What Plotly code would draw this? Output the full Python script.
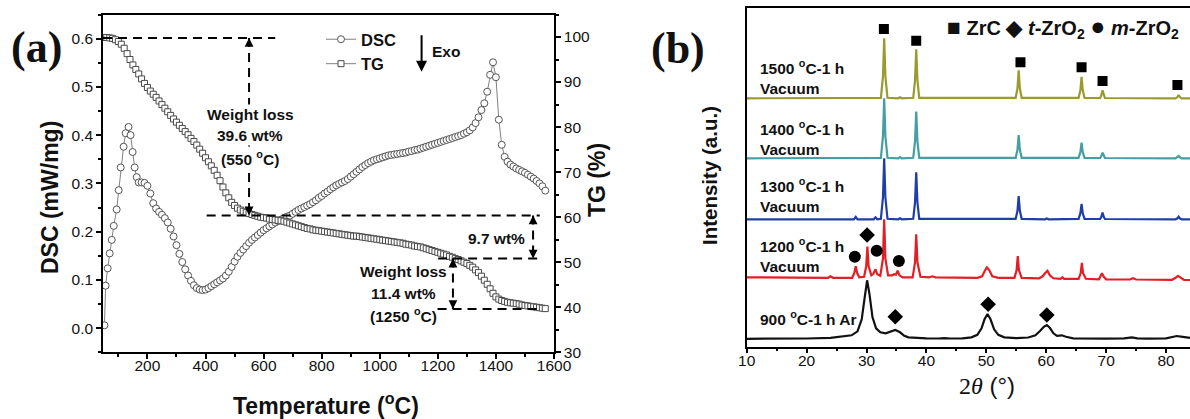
import plotly.graph_objects as go

# ---------------- Panel (a): DSC / TG ----------------
DSC_T = [52, 56, 63, 70, 77, 84, 94, 101, 108, 118, 125, 135, 142, 149, 156, 163, 170] + list(range(180, 1571, 10))
DSC_V = [0.006, 0.088, 0.124, 0.155, 0.183, 0.212, 0.246, 0.286, 0.333, 0.376, 0.404, 0.417, 0.40, 0.365, 0.333, 0.313, 0.302,
         # 180-270
         0.302, 0.301, 0.295, 0.279, 0.259, 0.248, 0.241, 0.235, 0.228, 0.219,
         # 280-370
         0.206, 0.19, 0.172, 0.154, 0.137, 0.122, 0.109, 0.098, 0.089, 0.083,
         # 380-470
         0.08, 0.079, 0.08, 0.083, 0.087, 0.091, 0.095, 0.099, 0.103, 0.109,
         # 480-570
         0.117, 0.127, 0.138, 0.148, 0.156, 0.163, 0.17, 0.177, 0.183, 0.188,
         # 580-670
         0.193, 0.198, 0.203, 0.207, 0.211, 0.215, 0.219, 0.222, 0.225, 0.228,
         # 680-770
         0.231, 0.233, 0.237, 0.241, 0.245, 0.248, 0.251, 0.254, 0.257, 0.261,
         # 780-870
         0.265, 0.27, 0.274, 0.279, 0.283, 0.288, 0.292, 0.296, 0.299, 0.302,
         # 880-970
         0.305, 0.309, 0.314, 0.319, 0.324, 0.329, 0.334, 0.338, 0.342, 0.345,
         # 980-1070
         0.348, 0.35, 0.352, 0.354, 0.356, 0.358, 0.359, 0.36, 0.361, 0.362,
         # 1080-1170
         0.363, 0.364, 0.366, 0.367, 0.369, 0.37, 0.372, 0.374, 0.376, 0.378,
         # 1180-1270
         0.38, 0.382, 0.384, 0.386, 0.388, 0.39, 0.392, 0.394, 0.396, 0.398,
         # 1280-1370
         0.40, 0.403, 0.406, 0.41, 0.416, 0.425, 0.437, 0.452, 0.466, 0.49,
         # 1380-1470
         0.525, 0.551, 0.52, 0.432, 0.38, 0.355, 0.345, 0.339, 0.335, 0.331,
         # 1480-1570
         0.328, 0.325, 0.322, 0.318, 0.314, 0.31, 0.305, 0.30, 0.294, 0.285]

TG_T = list(range(50, 1571, 10))
TG_V = [99.9, 99.9, 99.8, 99.7, 99.4, 99.0, 98.4, 97.5, 96.3, 95.0,
        93.8, 92.8, 91.8, 90.7, 89.7, 88.8, 88.0, 87.3, 86.6, 85.8,
        85.0, 84.2, 83.4, 82.6, 81.8, 81.1, 80.4, 79.7, 79.0, 78.3,
        77.5, 76.8, 76.0, 75.1, 74.2, 73.2, 72.3, 71.4, 70.4, 69.3,
        68.1, 66.7, 65.4, 64.3, 63.3, 62.6, 62.0, 61.6, 61.3, 61.0,
        60.8, 60.6, 60.4, 60.2, 60.0, 59.9, 59.8, 59.6, 59.5, 59.4,
        59.3, 59.2, 59.1, 58.9, 58.7, 58.5, 58.3, 58.1, 57.9, 57.7,
        57.5, 57.4, 57.2, 57.1, 57.0, 56.9, 56.8, 56.7, 56.6, 56.5,
        56.4, 56.3, 56.2, 56.1, 56.0, 55.9, 55.8, 55.8, 55.7, 55.6,
        55.5, 55.4, 55.3, 55.2, 55.1, 55.0, 54.9, 54.8, 54.7, 54.6,
        54.5, 54.4, 54.3, 54.2, 54.0, 53.9, 53.8, 53.6, 53.5, 53.4,
        53.2, 53.0, 52.8, 52.6, 52.4, 52.2, 52.0, 51.8, 51.6, 51.3,
        51.1, 50.8, 50.6, 50.3, 50.0, 49.7, 49.3, 48.9, 48.3, 47.7,
        46.9, 46.0, 45.1, 44.1, 43.1, 42.3, 41.8, 41.5, 41.3, 41.1,
        41.0, 40.9, 40.8, 40.7, 40.5, 40.4, 40.3, 40.2, 40.1, 40.0,
        39.9, 39.8, 39.7]

# weight-loss marker levels (TG %) and temperatures
WL_TOP, WL_550, WL_1250_TOP, WL_1250 = 99.8, 60.4, 50.8, 39.6
T_550, T_97, T_1250 = 550, 1528, 1252

# ---------------- Panel (b): XRD ----------------
XRD_LABELS = ["1500 <sup>o</sup>C-1 h<br>Vacuum", "1400 <sup>o</sup>C-1 h<br>Vacuum",
              "1300 <sup>o</sup>C-1 h<br>Vacuum", "1200 <sup>o</sup>C-1 h<br>Vacuum",
              "900 <sup>o</sup>C-1 h Ar"]
XRD_COLORS = ["#9a9a2e", "#449ea3", "#1e3ea8", "#e31e24", "#111111"]
XRD_OFFSETS = [248.4, 188.4, 127.4, 68.4, 7.4]

X_1500 = [10, 20, 32.4, 32.75, 32.95, 33.15, 33.5, 35.3, 35.6, 35.9, 37.8, 38.1, 38.3, 38.5, 38.8,
          54.9, 55.2, 55.4, 55.6, 55.9, 65.4, 65.7, 65.9, 66.1, 66.4, 69.0, 69.2, 69.4, 69.6, 69.8,
          81.6, 81.9, 82.1, 82.3, 82.6, 84]
Y_1500 = [0, 0, 0.5, 22, 60, 22, 0.5, 0, 1, 0, 0.5, 18, 49, 18, 0.5,
          0.5, 10, 28, 10, 0.5, 0.5, 8, 21.5, 8, 0.5, 0.3, 3, 8, 3, 0.3,
          0, 1.2, 3.3, 1.2, 0, 0]
X_1400 = X_1500
Y_1400 = [0, 0, 0.5, 22, 60, 22, 0.5, 0, 1.3, 0, 0.5, 17, 46.7, 17, 0.5,
          0.5, 8.5, 23.3, 8.5, 0.5, 0.5, 6, 15.7, 6, 0.5, 0.3, 2.2, 5.7, 2.2, 0.3,
          0, 1, 2.3, 1, 0, 0]
X_1300 = [10, 20, 27.9, 28.2, 28.5, 31.2, 31.5, 31.8, 32.4, 32.75, 32.95, 33.15, 33.5, 35.3, 35.6, 35.9,
          37.8, 38.1, 38.3, 38.5, 38.8, 54.9, 55.2, 55.4, 55.6, 55.9, 59.8, 60.1, 60.4,
          65.4, 65.7, 65.9, 66.1, 66.4, 69.0, 69.2, 69.4, 69.6, 69.8, 81.6, 81.9, 82.1, 82.3, 82.6, 84]
Y_1300 = [0, 0, 0, 2.5, 0, 0, 2, 0, 0.5, 22, 61, 22, 0.5, 0, 1, 0,
          0.5, 17, 47, 17, 0.5, 0.5, 8.5, 23.3, 8.5, 0.5, 0, 0.8, 0,
          0.5, 6, 15.3, 6, 0.5, 0.3, 2.5, 6.7, 2.5, 0.3, 0, 1, 2.7, 1, 0, 0]
X_1200 = [10, 17, 22, 23.6, 24.0, 24.4, 27.6, 27.95, 28.2, 28.45, 28.8, 29.6, 29.95, 30.15, 30.35,
          30.8, 31.15, 31.5, 31.8, 32.3, 32.75, 32.95, 33.15, 33.6, 34.3, 34.6, 34.9, 35.2, 35.5, 36.0,
          37.7, 38.1, 38.3, 38.5, 39.0, 40.5, 41.0, 41.5, 48.5, 49.3, 49.8, 50.1, 50.5, 51.0, 52.0,
          54.7, 55.05, 55.25, 55.45, 55.9, 58.8, 59.4, 59.8, 60.2, 60.6, 61.2, 62.4, 62.7, 63.0,
          65.4, 65.75, 65.95, 66.15, 66.6, 68.8, 69.1, 69.3, 69.6, 70.0, 74.0, 74.5, 75.0,
          81.0, 81.6, 82.0, 82.5, 83.0, 84]
Y_1200 = [1, 0.8, 0.5, 0.5, 2, 0.5, 0.5, 5, 12, 5, 1, 1.5, 12, 31.7, 12,
          3, 4.5, 9, 4, 2.5, 20, 59, 20, 3, 3, 4, 3.5, 7.6, 3, 1,
          1, 16, 44, 16, 1.5, 1, 2, 1, 0.5, 2, 8, 11, 8, 2, 0.5,
          0.5, 8, 22.3, 8, 0.5, 0, 2, 5, 7.5, 3, 0, -0.5, 1, -0.5,
          -0.5, 5, 15.3, 5, -0.5, -1, 2, 5, 1.5, -1, -1.2, 0, -1.2,
          -1.5, 0.5, 2.5, 0.5, -1.5, -1.7]
X_900 = [10, 15, 20, 24, 26, 27.5, 28.5, 29.2, 29.7, 30.1, 30.5, 31.0, 31.6, 32.3, 33.2, 34.0, 34.8, 35.6,
         36.3, 37.0, 38.5, 40, 42, 43, 44, 46, 47.5, 48.5, 49.2, 49.7, 50.2, 50.7, 51.3, 52, 53, 55, 57,
         58.2, 59, 59.6, 60.1, 60.6, 61.2, 61.8, 62.6, 63.3, 64.5, 67, 70, 73, 74.3, 75.2, 77, 80, 81,
         81.8, 82.8, 84]
Y_900 = [0.5, 0.5, 0.8, 1.5, 2.5, 4, 8, 20, 42, 59, 45, 22, 11, 7, 6, 7.5, 9.3, 7,
         3.5, 2, 1.2, 1, 0.8, 1.2, 0.8, 1, 2, 4.5, 11, 20, 25.3, 20, 10, 4.5, 2, 1.2, 1.8,
         4, 8.5, 12.5, 14.3, 11.5, 6, 3.5, 4, 2.5, 1, 0.6, 0.6, 1, 2, 1, 0.6, 1, 2.5,
         3.3, 2.5, 1.5]
XRD_X = [X_1500, X_1400, X_1300, X_1200, X_900]
XRD_Y = [Y_1500, Y_1400, Y_1300, Y_1200, Y_900]

# phase markers (2theta, intensity level in a.u.)
ZRC_X = [32.9, 38.3, 55.7, 65.9, 69.4, 81.9]
ZRC_Y = [317.7, 306, 284.4, 279.4, 265.7, 261.7]
TZRO2_X = [30.1, 34.8, 50.3, 60.1]
TZRO2_Y = [111.7, 30, 42.4, 31.7]
MZRO2_X = [28.05, 31.7, 35.4]
MZRO2_Y = [90, 96, 85.7]

W, H = 1190, 419
def px(x): return x / W
def py(y): return 1 - y / H

SANS = "Liberation Sans, Arial, sans-serif"
SERIF = "Liberation Serif, Times New Roman, serif"

fig = go.Figure()
fig.add_trace(go.Scatter(x=DSC_T, y=DSC_V, mode="lines+markers", name="<b>DSC</b>",
                         line=dict(color="#808080", width=1),
                         marker=dict(symbol="circle", size=7, color="white", line=dict(color="#555555", width=1)),
                         xaxis="x", yaxis="y"))
fig.add_trace(go.Scatter(x=TG_T, y=TG_V, mode="lines+markers", name="<b>TG</b>",
                         line=dict(color="#808080", width=1),
                         marker=dict(symbol="square", size=6, color="white", line=dict(color="#4a4a4a", width=1)),
                         xaxis="x", yaxis="y2"))

for xs, ys, off, col in zip(XRD_X, XRD_Y, XRD_OFFSETS, XRD_COLORS):
    fig.add_trace(go.Scatter(x=xs, y=[v + off for v in ys], mode="lines", showlegend=False,
                             line=dict(color=col, width=2.2), xaxis="x2", yaxis="y3"))
fig.add_trace(go.Scatter(x=ZRC_X, y=ZRC_Y, mode="markers", showlegend=False,
                         marker=dict(symbol="square", size=10, color="black"), xaxis="x2", yaxis="y3"))
fig.add_trace(go.Scatter(x=TZRO2_X, y=TZRO2_Y, mode="markers", showlegend=False,
                         marker=dict(symbol="diamond", size=12, color="black"), xaxis="x2", yaxis="y3"))
fig.add_trace(go.Scatter(x=MZRO2_X, y=MZRO2_Y, mode="markers", showlegend=False,
                         marker=dict(symbol="circle", size=12, color="black"), xaxis="x2", yaxis="y3"))

tickfont = dict(family=SANS, size=15.5, color="#111")
axis_common = dict(showline=True, linecolor="black", linewidth=1.5, ticks="outside", ticklen=5,
                   tickwidth=1.5, tickcolor="black", showgrid=False, zeroline=False, tickfont=tickfont,
                   automargin=False)
minor_common = dict(ticks="outside", ticklen=3, tickwidth=1.5, tickcolor="black")

# dashed guide lines (panel a)
dash = dict(color="black", width=2, dash="9px,6px")
shapes = [
    dict(type="line", xref="x", yref="y2", x0=47, x1=640, y0=WL_TOP, y1=WL_TOP, line=dash),
    dict(type="line", xref="x", yref="y2", x0=T_550, x1=T_550, y0=WL_TOP, y1=WL_550 + 0.3, line=dash),
    dict(type="line", xref="x", yref="y2", x0=404, x1=1551, y0=WL_550, y1=WL_550, line=dash),
    dict(type="line", xref="x", yref="y2", x0=1201, x1=1551, y0=WL_1250_TOP, y1=WL_1250_TOP, line=dash),
    dict(type="line", xref="x", yref="y2", x0=T_97, x1=T_97, y0=WL_550, y1=WL_1250_TOP, line=dash),
    dict(type="line", xref="x", yref="y2", x0=1199, x1=1556, y0=WL_1250, y1=WL_1250, line=dash),
    dict(type="line", xref="x", yref="y2", x0=T_1250, x1=T_1250, y0=WL_1250_TOP, y1=WL_1250, line=dash),
]

ann = []
def arrowhead(x, y, up):
    ann.append(dict(x=x, y=y, xref="x", yref="y2", text="", showarrow=True, ax=0, ay=(9 if up else -9),
                    arrowhead=2, arrowsize=1.1, arrowwidth=1.6, arrowcolor="black"))
arrowhead(T_550, WL_TOP, True)
arrowhead(T_550, WL_550, False)
arrowhead(T_97, WL_550, True)
arrowhead(T_97, WL_1250_TOP, False)
arrowhead(T_1250, WL_1250_TOP, True)
arrowhead(T_1250, WL_1250, False)

def text(s, x, y, size=15.5, bold=True, family=SANS, bg=None, xanchor="center", angle=0, color="#111"):
    d = dict(text=("<b>%s</b>" % s) if bold else s, x=px(x), y=py(y), xref="paper", yref="paper",
             showarrow=False, xanchor=xanchor, yanchor="middle", textangle=angle, align=xanchor,
             font=dict(family=family, size=size, color=color))
    if bg:
        d["bgcolor"] = bg
    ann.append(d)

text("Weight loss", 250, 114.3, bg="white")
text("39.6 wt%", 250, 135.7, bg="white")
text("(550 <sup>o</sup>C)", 250, 157.7, bg="white")
text("9.7 wt%", 496.7, 238.3)
text("Weight loss", 403, 271.7)
text("11.4 wt%", 403, 293.3)
text("(1250 <sup>o</sup>C)", 403, 315)
text("Exo", 445.5, 51.7)
ann.append(dict(x=1144, y=92.3, xref="x", yref="y2", axref="x", ayref="y2", ax=1144, ay=100.75,
                text="", showarrow=True, arrowhead=2, arrowsize=1.1, arrowwidth=2, arrowcolor="black"))

# axis titles and panel labels
text("DSC (mW/mg)", 50, 198, size=23, angle=-90)
text("Temperature (<sup>o</sup>C)", 325.5, 404, size=23)
text("TG (%)", 597, 180, size=23, angle=-90)
text("(a)", 36, 47, size=44, family=SERIF)
text("(b)", 678, 49, size=44, family=SERIF)
text("Intensity (a.u.)", 709, 176, size=20.5, angle=-90)
ann.append(dict(text="<span style='font-family:Liberation Serif'>2<i>θ</i></span> (°)", x=px(987), y=py(385),
                xref="paper", yref="paper", showarrow=False, xanchor="center", yanchor="middle",
                font=dict(family=SANS, size=24, color="#111")))
text("<span style='font-size:23px'>■</span> ZrC <span style='font-size:21px'>◆</span> <i>t</i>-ZrO<sub>2</sub> "
     "<span style='font-size:25px'>●</span> <i>m</i>-ZrO<sub>2</sub>", 1181, 27, size=20, xanchor="right")

label_y = [76.7, 137.7, 195, 255, 318]
for lab, yy in zip(XRD_LABELS, label_y):
    text(lab, 758, yy, size=15.5, xanchor="left")

fig.update_layout(
    width=W, height=H, margin=dict(l=0, r=0, t=0, b=0, pad=0, autoexpand=False),
    paper_bgcolor="white", plot_bgcolor="white",
    font=dict(family=SANS, color="#111"),
    xaxis=dict(domain=[px(103), px(554)], range=[47, 1600], anchor="y", mirror=True, tick0=0, dtick=200,
               ticklabelstandoff=-7, minor=dict(dtick=100, **minor_common), **axis_common),
    yaxis=dict(domain=[py(352.3), py(14.5)], range=[-0.05, 0.65], anchor="x", tick0=0, dtick=0.1, tickformat=".1f",
               minor=dict(dtick=0.05, **minor_common), **axis_common),
    yaxis2=dict(overlaying="y", side="right", anchor="x", range=[30, 105], tick0=0, dtick=10,
                minor=dict(dtick=5, **minor_common), **axis_common),
    xaxis2=dict(domain=[px(746.7), 1.0], range=[10, 84], anchor="y3", mirror=True, tick0=0, dtick=10,
                ticklabelstandoff=-6, minor=dict(dtick=5, **minor_common), **axis_common),
    yaxis3=dict(domain=[py(346.7), py(8)], range=[0, 338.7], anchor="x2", showline=True, linecolor="black",
                linewidth=1.5, ticks="", showticklabels=False, showgrid=False, zeroline=False, automargin=False),
    showlegend=True,
    legend=dict(x=px(321), y=py(22), xanchor="left", yanchor="top", bgcolor="rgba(0,0,0,0)",
                font=dict(family=SANS, size=16.5, color="#111"), itemwidth=30, tracegroupgap=0),
    shapes=shapes, annotations=ann,
)

fig.write_html("out.html", config={"displayModeBar": False},
               post_script="document.body.style.margin='0px';document.body.style.overflow='hidden';")
